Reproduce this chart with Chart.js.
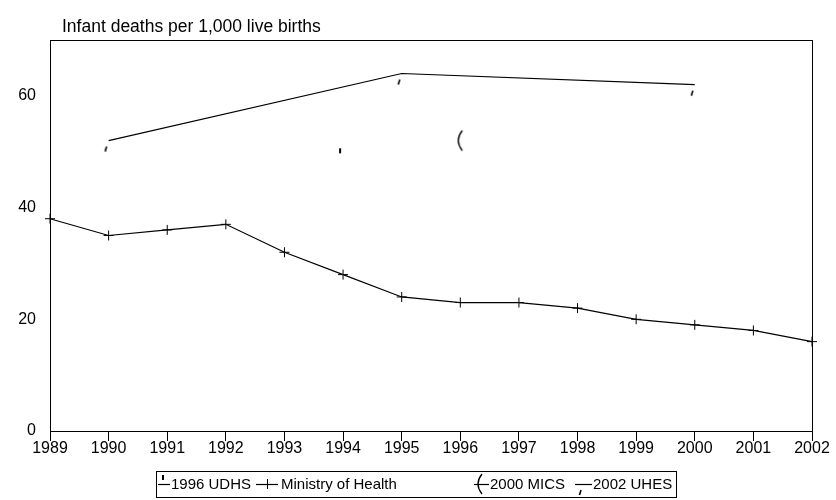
<!DOCTYPE html>
<html>
<head>
<meta charset="utf-8">
<script src="https://cdn.jsdelivr.net/npm/chart.js@4.4.1/dist/chart.umd.min.js"></script>
<style>
html,body{margin:0;padding:0;background:#fff;}
#wrap{width:836px;height:500px;position:relative;}
</style>
</head>
<body>
<div id="wrap"><canvas id="c" width="836" height="500"></canvas></div>
<script>
// ---- data ----
const years = [1989,1990,1991,1992,1993,1994,1995,1996,1997,1998,1999,2000,2001,2002];
const ministryOfHealth = [38,35,36,37,32,28,24,23,23,22,20,19,18,16];
const udhsYears = [1994];
const udhsValues = [49];
const micsYears = [1996];
const micsValues = [52];
const uhesYears = [1990,1995,2000];
const uhesValues = [52,64,62];
const yTicks = [0,20,40,60];
const seriesNames = ['1996 UDHS','Ministry of Health','2000 MICS','2002 UHES'];
const yTitle = 'Infant deaths per 1,000 live births';

const FONT = "'Liberation Sans', Arial, sans-serif";
const FS = 16;

function pts(xs, ys){ return xs.map((x,i)=>({x:x, y:ys[i]})); }

// marker images
function mk(w,h,draw){
  const c=document.createElement('canvas'); c.width=w; c.height=h;
  const g=c.getContext('2d'); g.strokeStyle='#000'; g.fillStyle='#000'; draw(g,w/2,h/2); return c;
}
const udhsMarker = mk(16,24,(g,cx,cy)=>{ g.fillRect(cx-4,cy-9,2,5); });
const uhesMarker = mk(16,30,(g,cx,cy)=>{ g.lineWidth=1.6; g.beginPath(); g.moveTo(cx-2,cy+6); g.lineTo(cx-3.5,cy+11); g.stroke(); });
const micsMarker = mk(20,30,(g,cx,cy)=>{ g.lineWidth=1.3; g.beginPath(); g.moveTo(cx+2,cy-10); g.quadraticCurveTo(cx-6,cy,cx+2,cy+10); g.stroke(); });

const frameLegend = {
  id:'frameLegend',
  afterDraw(chart){
    const ctx=chart.ctx, a=chart.chartArea;
    ctx.save();
    ctx.strokeStyle='#000'; ctx.lineWidth=1;
    ctx.strokeRect(Math.round(a.left)+0.5, Math.round(a.top)+0.5, Math.round(a.right-a.left), Math.round(a.bottom-a.top));
    // title
    ctx.fillStyle='#000'; ctx.font='17.5px '+FONT; ctx.textBaseline='alphabetic'; ctx.textAlign='left';
    ctx.fillText(yTitle, 62, 32);
    // legend
    const lx=156, ly=471, lw=520, lh=26, cy=ly+lh/2;
    ctx.strokeRect(lx+0.5, ly+0.5, lw, lh);
    ctx.textBaseline='middle';
    ctx.font='15px '+FONT;
    const items=[
      {sx:158, ex:170, tx:171, m:udhsMarker, mx:166},
      {sx:256, ex:278, tx:281, m:'cross', mx:267},
      {sx:474, ex:489, tx:490, m:micsMarker, mx:480},
      {sx:575, ex:592, tx:593, m:uhesMarker, mx:583}
    ];
    items.forEach((it,i)=>{
      ctx.lineWidth=1.2;
      ctx.beginPath(); ctx.moveTo(it.sx, cy+0.5); ctx.lineTo(it.ex, cy+0.5); ctx.stroke();
      if(it.m==='cross'){
        ctx.lineWidth=1;
        ctx.beginPath(); ctx.moveTo(it.mx-5, cy+0.5); ctx.lineTo(it.mx+5, cy+0.5);
        ctx.moveTo(it.mx+0.5, cy-5); ctx.lineTo(it.mx+0.5, cy+5); ctx.stroke();
      } else {
        ctx.drawImage(it.m, it.mx-it.m.width/2, cy-it.m.height/2);
      }
      ctx.fillText(seriesNames[i], it.tx, cy+1);
    });
    ctx.restore();
  }
};

new Chart(document.getElementById('c'), {
  type:'line',
  data:{
    datasets:[
      {label:seriesNames[0], data:pts(udhsYears,udhsValues), showLine:false, pointStyle:udhsMarker, borderColor:'#000', backgroundColor:'#000', clip:false},
      {label:seriesNames[1], data:pts(years,ministryOfHealth), borderColor:'#000', borderWidth:1.2, pointStyle:'cross', pointRadius:5, pointBorderWidth:1, pointBorderColor:'#000', tension:0, clip:false},
      {label:seriesNames[2], data:pts(micsYears,micsValues), showLine:false, pointStyle:micsMarker, borderColor:'#000', clip:false},
      {label:seriesNames[3], data:pts(uhesYears,uhesValues), borderColor:'#000', borderWidth:1.2, pointStyle:uhesMarker, tension:0, clip:false}
    ]
  },
  options:{
    responsive:false, animation:false, events:[],
    layout:{padding:{top:40,right:24,left:0,bottom:0}},
    plugins:{legend:{display:false}, tooltip:{enabled:false}, title:{display:false}},
    scales:{
      x:{type:'linear', min:1989, max:2002,
        afterBuildTicks(s){ s.ticks = years.map(v=>({value:v})); },
        afterFit(s){ s.height=69; },
        grid:{display:true, drawOnChartArea:false, drawTicks:true, tickLength:10, color:'#000', lineWidth:1},
        border:{display:true, color:'#000', width:1},
        ticks:{color:'#000', font:{family:FONT,size:FS}, padding:-2, maxRotation:0, autoSkip:false, callback:v=>String(v)}
      },
      y:{type:'linear', min:0, max:70,
        afterBuildTicks(s){ s.ticks = yTicks.map(v=>({value:v})); },
        afterFit(s){ s.width=50; },
        grid:{display:false},
        border:{display:true, color:'#000', width:1},
        ticks:{color:'#000', font:{family:FONT,size:FS}, padding:6}
      }
    }
  },
  plugins:[frameLegend]
});
</script>
</body>
</html>
